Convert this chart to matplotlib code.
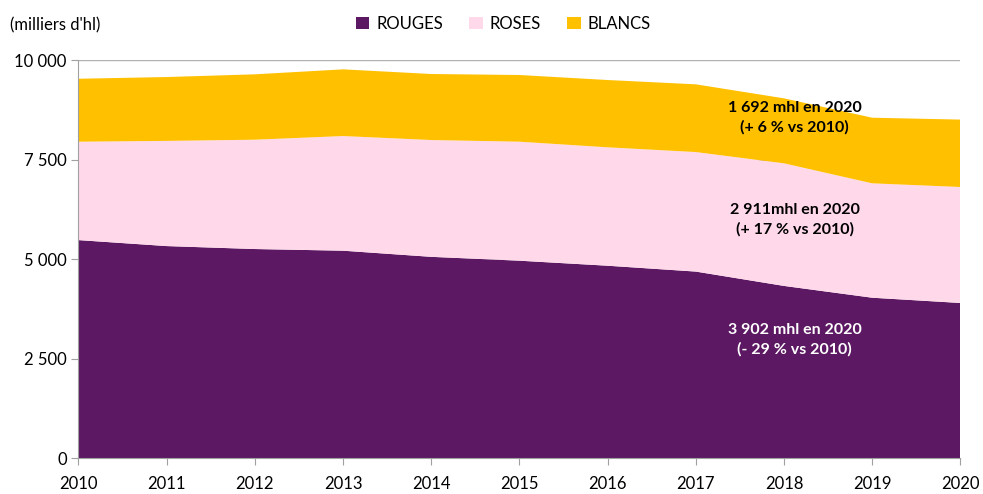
import matplotlib.pyplot as plt
from matplotlib.patches import Patch
from matplotlib.ticker import FuncFormatter

years = [2010, 2011, 2012, 2013, 2014, 2015, 2016, 2017, 2018, 2019, 2020]
rouges = [5480, 5330, 5256, 5214, 5060, 4963, 4837, 4690, 4330, 4034, 3902]
roses = [2470, 2640, 2744, 2878, 2932, 2987, 2972, 3000, 3077, 2871, 2911]
blancs = [1580, 1603, 1641, 1674, 1657, 1674, 1689, 1700, 1631, 1647, 1692]

labels = ['ROUGES', 'ROSES', 'BLANCS']
colors = ['#5C1862', '#FFD9EA', '#FFC000']

plt.rcParams['font.family'] = ['Lato', 'DejaVu Sans']

fig = plt.figure(figsize=(9.83, 4.94), dpi=100)
ax = fig.add_axes([0.0798, 0.072, 0.8972, 0.8065])

ax.grid(axis='y', color='#b0b0b0', linewidth=1, zorder=0)
ax.stackplot(years, rouges, roses, blancs, colors=colors, zorder=2, linewidth=0)

ax.set_xlim(2010, 2020)
ax.set_ylim(0, 10000)
ax.set_xticks(years)
ax.set_yticks([0, 2500, 5000, 7500, 10000])
ax.yaxis.set_major_formatter(FuncFormatter(lambda v, p: f"{int(v):,}".replace(',', ' ')))
ax.tick_params(axis='both', labelsize=12, color='#a0a0a0', length=5)
ax.tick_params(axis='x', pad=8)
ax.set_axisbelow(True)
for s in ['top', 'right']:
    ax.spines[s].set_visible(False)
for s in ['left', 'bottom']:
    ax.spines[s].set_color('#a0a0a0')

# annotations
ax.text(2018.12, 8540, "1 692 mhl en 2020\n(+ 6 % vs 2010)", ha='center', va='center',
        fontsize=11.5, fontweight='bold', color='black', linespacing=1.45, zorder=3)
ax.text(2018.12, 5980, "2 911mhl en 2020\n(+ 17 % vs 2010)", ha='center', va='center',
        fontsize=11.5, fontweight='bold', color='black', linespacing=1.45, zorder=3)
ax.text(2018.12, 2970, "3 902 mhl en 2020\n(- 29 % vs 2010)", ha='center', va='center',
        fontsize=11.5, fontweight='bold', color='white', linespacing=1.45, zorder=3)

handles = [Patch(facecolor=c, label=l) for c, l in zip(colors, labels)]
fig.legend(handles=handles, loc='center', bbox_to_anchor=(0.512, 0.952), ncol=3,
           frameon=False, fontsize=12, handlelength=0.8, handleheight=0.8,
           handletextpad=0.4, columnspacing=1.6)

fig.text(0.01, 0.948, "(milliers d'hl)", fontsize=12, va='center', ha='left')

fig.savefig('out.png', dpi=100)
